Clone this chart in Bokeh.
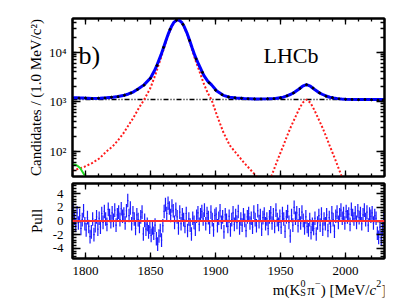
import numpy as np
from bokeh.plotting import figure
from bokeh.layouts import column
from bokeh.models import (Range1d, LogAxis, LinearAxis, SingleIntervalTicker, LogTicker,
                          Label, Span, CustomJSTickFormatter)
from bokeh.core.properties import value
from bokeh.embed import file_html
from bokeh.resources import INLINE

FONT = "Liberation Serif"

# ---------------- data ----------------
fit_mass = [1790, 1793, 1796, 1799, 1802, 1805, 1811, 1816, 1821, 1825, 1829, 1833, 1837, 1841,
            1845, 1850, 1853, 1855, 1858, 1860, 1862, 1864, 1866, 1868, 1870, 1871, 1872, 1874,
            1876, 1878, 1880, 1882, 1884, 1887, 1891, 1894, 1897, 1901, 1906, 1911, 1916, 1922,
            1931, 1940, 1946, 1952, 1955, 1958, 1961, 1964, 1967, 1970, 1973, 1976, 1979, 1982,
            1985, 1988, 1991, 1994, 1997, 2000, 2010, 2020, 2030]
fit_total = [1192, 1192, 1188, 1179, 1172, 1157, 1172, 1198, 1225, 1265, 1325, 1430, 1580, 1840,
             2180, 3000, 4200, 5500, 8700, 12300, 17600, 24600, 32600, 40100, 44400, 45100, 44400, 40100,
             32600, 24600, 17600, 12300, 8700, 5700, 3400, 2600, 2180, 1640, 1340, 1230, 1190, 1160,
             1135, 1137, 1160, 1230, 1305, 1410, 1560, 1780, 2050, 2200, 2050, 1780, 1560, 1410,
             1300, 1225, 1180, 1150, 1131, 1120, 1105, 1100, 1100]

bkg_mass = [1790, 2030]
bkg_level = [1100, 1100]

dplus_mass = [1790, 1799, 1805, 1811, 1816, 1821, 1825, 1829, 1833, 1837, 1841, 1845, 1850, 1853,
              1855, 1858, 1860, 1862, 1864, 1866, 1868, 1870, 1871, 1872, 1874, 1876, 1878, 1880,
              1882, 1884, 1887, 1891, 1894, 1897, 1901, 1906, 1911, 1916, 1922, 1931, 1937]
dplus_sig = [40, 48, 57, 72, 98, 125, 165, 225, 330, 480, 740, 1080, 1900, 3100,
             4400, 7600, 11200, 16500, 23500, 31500, 39000, 43300, 44000, 43300, 39000, 31500, 23500, 16500,
             11200, 7600, 4600, 2300, 1500, 1080, 540, 240, 130, 90, 58, 32, 22]

ds_mass = [1937, 1940, 1943, 1946, 1949, 1952, 1955, 1958, 1961, 1964, 1967, 1970, 1973, 1976,
           1979, 1982, 1985, 1988, 1991, 1994, 1997, 2000]
ds_sig = [13, 20, 31, 50, 80, 125, 200, 310, 460, 680, 950, 1100, 950, 680,
          460, 310, 200, 125, 80, 50, 31, 20]

green_mass = [1790, 1792, 1794, 1796, 1798, 1800, 1802]
green_vals = [54, 53, 50, 45, 37, 30, 22]

data_mass = [1790, 1795, 1800, 1805, 1810, 1815, 1820, 1825, 1830, 1835, 1840, 1845, 1850, 1855,
             1860, 1865, 1870, 1875, 1880, 1885, 1890, 1895, 1900, 1905, 1910, 1915, 1920, 1925,
             1930, 1935, 1940, 1945, 1950, 1955, 1960, 1965, 1970, 1975, 1980, 1985, 1990, 1995,
             2000, 2005, 2010, 2015, 2020, 2025, 2029]
data_counts = [1195, 1180, 1185, 1150, 1175, 1185, 1230, 1260, 1350, 1490, 1760, 2150, 2950, 5400,
               12500, 29000, 44800, 36500, 17300, 7300, 3900, 2400, 1700, 1380, 1240, 1195, 1170, 1140,
               1135, 1130, 1140, 1150, 1190, 1310, 1500, 1850, 2190, 1880, 1500, 1290, 1200, 1140,
               1115, 1110, 1095, 1105, 1090, 1070, 1085]

pull_first_bin = 1790.5
pull_values = [
    1.6, 0.4, -0.6, 1.2, -0.3, 0.8, -1.1, 0.2, 1.5, -0.4,
    -1.3, 0.5, -0.8, -2.3, -1.6, 0.3, -2.0, -0.7, 0.6, -1.2,
    0.4, -0.9, 1.1, -0.2, 1.4, 0.3, -0.5, 1.7, 0.8, -0.1,
    1.2, 0.1, 1.6, -0.6, 0.9, 1.3, 0.2, 1.8, 0.7, 1.0,
    -0.3, 1.5, 3.0, 0.8, 1.9, -0.4, 1.2, 0.3, -1.1, 0.9,
    0.2, -0.8, 0.6, 1.3, -1.9, 0.1, -1.2, -0.5, -1.6, -0.9,
    -2.1, -1.0, -1.8, -0.6, -2.6, -3.4, -2.2, -1.4, -2.8, -0.7,
    1.4, 2.4, 1.1, 2.6, 1.9, 0.8, 2.2, 1.5, -0.2, 1.7,
    0.6, -1.0, 1.3, -0.4, 0.9, 0.2, -0.8, 1.1, -1.4, 0.3,
    -0.6, -1.9, 0.4, -0.2, -1.2, 0.7, 1.2, -0.5, 0.9, 1.4,
    0.3, 1.6, -0.4, 1.1, 0.5, -0.9, 1.3, 0.2, -1.3, 0.8,
    1.0, -0.7, 0.4, 1.5, -0.2, 0.6, -1.6, 0.9, 0.1, -0.8,
    0.7, -1.3, 0.2, 1.2, -0.5, 0.8, -0.2, 1.4, -1.0, 0.3,
    -0.6, 0.9, 0.1, -1.4, 0.6, 1.1, -0.3, 0.4, -0.9, 1.3,
    0.2, -0.7, 1.5, -0.1, 0.8, -1.2, 0.5, 1.0, -0.4, 0.3,
    -1.1, 0.6, 1.2, -0.3, 0.9, -0.8, 1.6, 0.2, -0.5, 0.7,
    -0.9, 1.1, 0.3, -1.5, 0.6, 1.4, -0.2, -2.2, 0.8, -0.6,
    2.0, 0.4, 1.2, -0.7, 0.9, -0.3, 1.3, 0.1, -1.0, 0.6,
    -0.8, -1.3, 0.2, -1.7, -0.5, -1.1, 0.4, -1.9, -0.3, 0.8,
    -0.6, 1.0, -1.2, 0.3, -0.4, 0.9, -1.4, 0.5, -0.8, 1.2,
    0.2, -1.5, 0.7, 1.3, -0.2, 0.9, 1.6, 0.4, 1.1, -0.3,
    1.4, 0.6, 1.0, -0.5, 1.7, 0.8, 0.3, 1.2, -0.2, 1.5,
    0.5, 1.1, -0.4, 0.9, 1.6, 0.2, 1.3, -0.6, 1.0, 0.7,
    1.2, -0.3, 0.8, 0.4, -1.8, -2.4, -0.9, -2.6, -1.2, 0.3,
]
pull_tick_labels = {-4: "-4", -2: "-2", 0: "0", 2: "2", 4: "4"}
log_tick_labels = {100: "10\u00b2", 1000: "10\u00b3", 10000: "10\u2074"}
mass_tick_values = [1800, 1850, 1900, 1950, 2000]
mass_tick_labels = ["1800", "1850", "1900", "1950", "2000"]

X_RANGE = (1790, 2030)
Y_RANGE = (30.6, 48000)
PULL_RANGE = (-5.5, 5.5)

W = 405
BL, BR = 72, 21

blank = CustomJSTickFormatter(code="return ''")


def style(ax, major_in, minor_in, labels=True, size="13px", standoff=4):
    ax.major_tick_in = major_in
    ax.major_tick_out = 0
    ax.minor_tick_in = minor_in
    ax.minor_tick_out = 0
    ax.axis_line_width = 2
    ax.axis_line_color = "black"
    ax.major_tick_line_width = 1.3
    ax.minor_tick_line_width = 1.3
    ax.major_label_text_font = FONT
    ax.major_label_text_color = "black"
    if labels:
        ax.major_label_text_font_size = size
        ax.major_label_standoff = standoff
    else:
        ax.formatter = blank
        ax.major_label_text_font_size = "0px"
        ax.major_label_standoff = 0
    ax.axis_label_text_font = FONT
    ax.axis_label_text_font_style = "normal"
    ax.axis_label_text_font_size = "15px"
    ax.axis_label_text_color = "black"


# ---------------- top panel ----------------
p1 = figure(width=W, height=179, x_range=Range1d(*X_RANGE), y_range=Range1d(*Y_RANGE),
            y_axis_type="log", output_backend="svg", toolbar_location=None,
            min_border_left=BL, min_border_right=BR, min_border_top=18, min_border_bottom=3)
p1.grid.visible = False
p1.outline_line_color = "black"
p1.outline_line_width = 2

p1.xaxis.ticker = SingleIntervalTicker(interval=50, num_minor_ticks=5)
style(p1.xaxis[0], 6, 3, labels=False)
p1.yaxis.ticker = LogTicker(num_minor_ticks=10)
style(p1.yaxis[0], 8, 4, labels=True, standoff=6)
p1.yaxis.major_label_overrides = log_tick_labels
p1.yaxis.axis_label = "Candidates / (1.0 MeV/c\u00b2)"
p1.yaxis.axis_label_standoff = 2

ax_top = LinearAxis(ticker=SingleIntervalTicker(interval=50, num_minor_ticks=5))
style(ax_top, 6, 3, labels=False)
p1.add_layout(ax_top, "above")
ax_right = LogAxis(ticker=LogTicker(num_minor_ticks=10))
style(ax_right, 8, 4, labels=False)
p1.add_layout(ax_right, "right")

p1.line(bkg_mass, bkg_level, line_color="black", line_width=1.5, line_dash="5 2 1 2 1 2")
p1.line(dplus_mass, dplus_sig, line_color="#ff1a1a", line_width=2, line_dash="2 2")
p1.line(ds_mass, ds_sig, line_color="#ff1a1a", line_width=2, line_dash="2 2")
p1.line(green_mass, green_vals, line_color="#22dd22", line_width=2)
p1.line(fit_mass, fit_total, line_color="#0000ff", line_width=3)
p1.scatter(data_mass, data_counts, size=2, color="black")

p1.add_layout(Label(x=1794.6, y=8566, text="b)", text_font=FONT, text_font_size="26px",
                    text_baseline="alphabetic", text_color="black"))
p1.add_layout(Label(x=1936.9, y=8566, text="LHCb", text_font=FONT, text_font_size="22px",
                    text_baseline="alphabetic", text_color="black"))

# ---------------- pull panel ----------------
p2 = figure(width=W, height=82, x_range=p1.x_range, y_range=Range1d(*PULL_RANGE),
            output_backend="svg", toolbar_location=None,
            min_border_left=BL, min_border_right=BR, min_border_top=4, min_border_bottom=3)
p2.grid.visible = False
p2.outline_line_color = "black"
p2.outline_line_width = 2

p2.xaxis.ticker = SingleIntervalTicker(interval=50, num_minor_ticks=5)
style(p2.xaxis[0], 6, 3, labels=False)
p2.yaxis.ticker = SingleIntervalTicker(interval=2, num_minor_ticks=5)
style(p2.yaxis[0], 8, 4, labels=True, standoff=9)
p2.yaxis.major_label_overrides = pull_tick_labels
p2.yaxis.axis_label = "Pull"
p2.yaxis.axis_label_standoff = 5

ax_top2 = LinearAxis(ticker=SingleIntervalTicker(interval=50, num_minor_ticks=5))
style(ax_top2, 6, 3, labels=False)
p2.add_layout(ax_top2, "above")
ax_right2 = LinearAxis(ticker=SingleIntervalTicker(interval=2, num_minor_ticks=5))
style(ax_right2, 8, 4, labels=False)
p2.add_layout(ax_right2, "right")

pv = np.array(pull_values)
px = pull_first_bin + np.arange(len(pv))
p2.segment(x0=px, y0=pv - 1, x1=px, y1=pv + 1, line_color="#1a1aff", line_width=1.2)
p2.segment(x0=px - 0.5, y0=pv, x1=px + 0.5, y1=pv, line_color="#1a1aff", line_width=1.2)
p2.add_layout(Span(location=0, dimension="width", line_color="#ff3030", line_width=2))

# ---------------- strip under the pull panel: mass tick labels and axis title ----------------
# y of this strip is measured in pixels up from the bottom of the page
p3 = figure(width=W, height=37, x_range=p1.x_range, y_range=Range1d(0, 37),
            x_axis_location=None, y_axis_location=None,
            output_backend="svg", toolbar_location=None,
            min_border_left=BL, min_border_right=BR, min_border_top=0, min_border_bottom=0)
p3.grid.visible = False
p3.outline_line_color = None

p3.text(x=mass_tick_values, y=[28] * len(mass_tick_values), text=mass_tick_labels,
        text_font=value(FONT), text_font_size=value("13px"), text_align="center",
        text_baseline="alphabetic", text_color="black")


def xt(text, x, y, size="15px", style="normal"):
    p3.add_layout(Label(x=x, y=y, text=text, text_font=FONT, text_font_size=size,
                        text_font_style=style, text_baseline="alphabetic", text_color="black"))


xt("m(K", 1944.1, 9)
xt("0", 1965.4, 15, size="10px")
xt("S", 1965.2, 6, size="10px")
xt("\u03c0", 1970.6, 9)
xt("\u2212", 1976.6, 15, size="10px")
xt(") [MeV/", 1981.0, 9)
xt("c", 2018.5, 9, style="italic")
xt("2", 2023.6, 15, size="10px")
xt("]", 2027.5, 9)

layout = column(p1, p2, p3)
open("out.html", "w").write(file_html(layout, INLINE))
